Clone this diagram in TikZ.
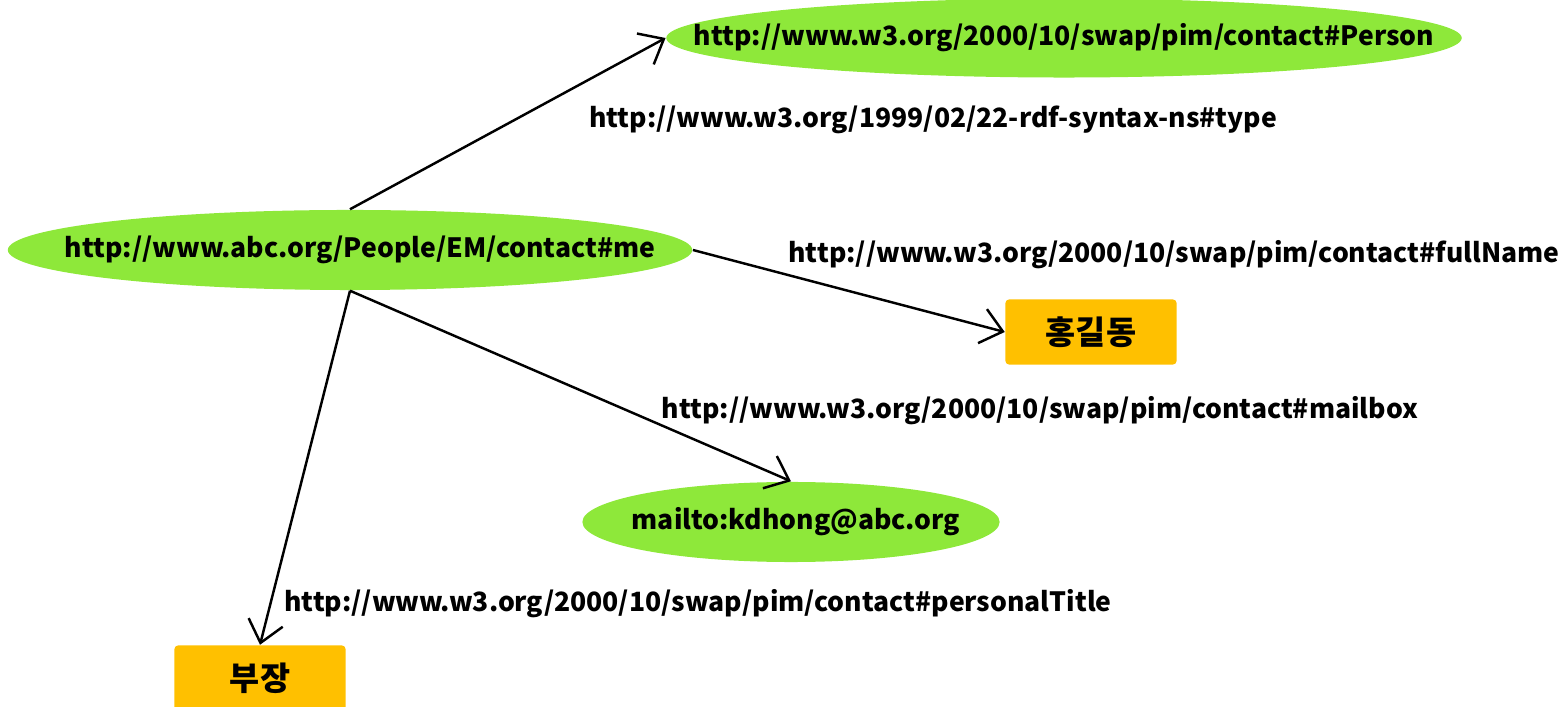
\documentclass[tikz,border=0pt]{standalone}
\usepackage{fontspec}
\setmainfont{Noto Sans CJK KR}
\usepackage{xcolor}
\usetikzlibrary{shapes.geometric, arrows.meta}

\definecolor{resgreen}{HTML}{8EE83A}
\definecolor{litgold}{HTML}{FFC000}

\begin{document}
\begin{tikzpicture}[x=0.01cm, y=-0.01cm,
    font=\bfseries\fontsize{7.55}{9}\selectfont,
    res/.style={ellipse, fill=resgreen, inner sep=0pt, minimum height=0.8cm},
    lit/.style={fill=litgold, rounded corners=1pt, minimum width=1.71cm, minimum height=0.65cm,
        font=\bfseries\fontsize{9.3}{11}\selectfont},
    rel/.style={-{Straight Barb[length=6pt,width=10pt]}, line width=0.7pt}]
    \useasboundingbox (0,0) rectangle (1567,707);

    % resources (text put on as centre labels so the ellipse keeps its size)
    \node[res, minimum width=6.84cm, label={[xshift=0.1cm]center:http://www.abc.org/People/EM/contact\#me}] (me) at (350,250) {};
    \node[res, minimum width=7.95cm, minimum height=0.79cm, label=center:{http://www.w3.org/2000/10/swap/pim/contact\#Person}] (person) at (1064,38) {};
    \node[res, minimum width=4.17cm, label={[xshift=0.05cm]center:mailto:kdhong@abc.org}] (mail) at (791,522) {};

    % literals
    \node[lit] (name) at (1091,332) {홍길동};
    \node[lit] (title) at (260,678) {부장};

    % properties
    \draw[rel] (me.north) -- (person.west);
    \draw[rel] (me.east) -- (name.west);
    \draw[rel] (me.south) -- (mail.north);
    \draw[rel] (me.south) -- (title.north);

    \node (ptype) at (933,120) {http://www.w3.org/1999/02/22-rdf-syntax-ns\#type};
    \node (pname) at (1174,255) {http://www.w3.org/2000/10/swap/pim/contact\#fullName};
    \node (pmail) at (1040,411) {http://www.w3.org/2000/10/swap/pim/contact\#mailbox};
    \node (ptitle) at (698,604) {http://www.w3.org/2000/10/swap/pim/contact\#personalTitle};
\end{tikzpicture}
\end{document}
